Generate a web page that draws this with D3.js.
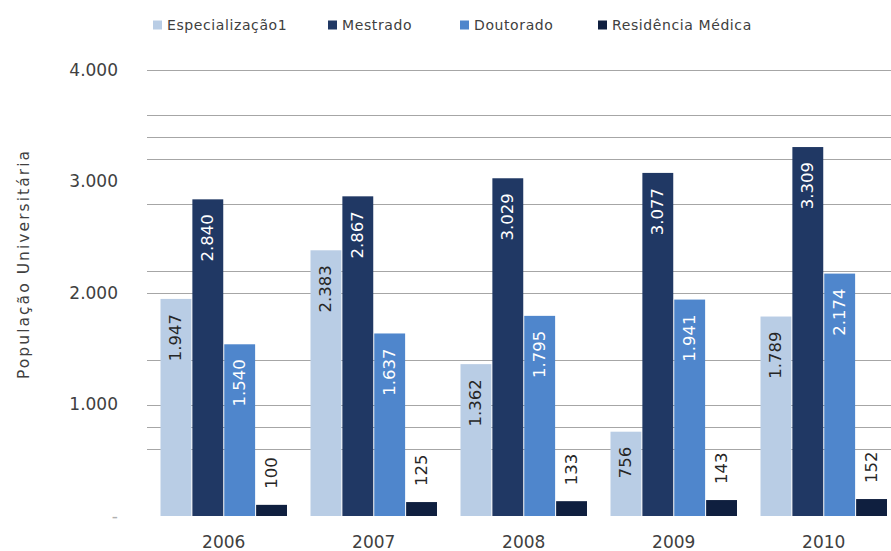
<!DOCTYPE html>
<html>
<head>
<meta charset="utf-8">
<script src="https://d3js.org/d3.v7.min.js"></script>
<style>
  body { margin: 0; background: #fff; }
  text { font-family: "DejaVu Sans", sans-serif; }
</style>
</head>
<body>
<div class="chart"></div>
<script>
// chart values
const years = ["2006", "2007", "2008", "2009", "2010"];
const series = ["Especialização1", "Mestrado", "Doutorado", "Residência Médica"];
const especializacao = [1947, 2383, 1362, 756, 1789];
const mestrado = [2840, 2867, 3029, 3077, 3309];
const doutorado = [1540, 1637, 1795, 1941, 2174];
const residencia = [100, 125, 133, 143, 152];
const yTicks = [0, 1000, 2000, 3000, 4000];
// the scanned picture has extra, uneven grid lines
const gridValues = [4000, 3600, 3400, 3200, 2800, 2200, 2000, 1400, 1000, 800, 600];

const colors = ["#b9cde5", "#203864", "#4f86cc", "#0f1f3f"];
const values = [especializacao, mestrado, doutorado, residencia];

// legend swatch positions as in the scan
const legendX = [153, 328, 460, 598];

const width = 891, height = 551;
const svg = d3.select(".chart").append("svg")
    .attr("width", width)
    .attr("height", height);

const y = d3.scaleLinear().domain([0, 4000]).range([516, 70]);

const x = d3.scaleBand()
    .domain(years)
    .range([148.75, 898.75])
    .paddingInner(0.15)
    .paddingOuter(0.075);

const xs = d3.scaleBand()
    .domain(series)
    .range([0, x.bandwidth()]);

const fmt = v => d3.format(",")(v).replace(/,/g, ".");

// grid
svg.selectAll(".grid")
    .data(gridValues)
    .enter()
    .append("line")
    .attr("class", "grid")
    .attr("x1", 147)
    .attr("x2", width)
    .attr("y1", d => Math.round(y(d)) + 0.5)
    .attr("y2", d => Math.round(y(d)) + 0.5)
    .attr("stroke", "#a6a6a6")
    .attr("stroke-width", 1.2);

// y axis labels
const yAxis = svg.append("g")
    .attr("transform", "translate(140,0)")
    .call(d3.axisLeft(y)
        .tickValues(yTicks)
        .tickSize(0)
        .tickPadding(22)
        .tickFormat(d => d === 0 ? "-" : fmt(d)));
yAxis.select(".domain").remove();
yAxis.selectAll("text")
    .attr("font-size", 17)
    .attr("fill", "#404040");
yAxis.selectAll(".tick").filter(d => d === 0).select("text").attr("fill", "#b0b0b0");

svg.append("text")
    .attr("transform", "translate(24,265) rotate(-90)")
    .attr("text-anchor", "middle")
    .attr("dominant-baseline", "central")
    .attr("font-size", 15.5)
    .attr("textLength", 228)
    .attr("lengthAdjust", "spacing")
    .attr("fill", "#404040")
    .text("População Universitária");

// bars
const groups = svg.selectAll(".year")
    .data(years)
    .enter()
    .append("g")
    .attr("class", "year")
    .attr("transform", d => "translate(" + x(d) + ",0)");

series.forEach(function (s, si) {
    groups.append("rect")
        .attr("x", xs(s) + 0.5)
        .attr("width", xs.bandwidth() - 1)
        .attr("y", (d, i) => y(values[si][i]))
        .attr("height", (d, i) => y(0) - y(values[si][i]))
        .attr("fill", colors[si]);

    groups.append("text")
        .attr("transform", function (d, i) {
            const cx = xs(s) + xs.bandwidth() / 2;
            const top = y(values[si][i]);
            const ty = si === 3 ? top - 16 : top + 15;
            return "translate(" + cx + "," + ty + ") rotate(-90)";
        })
        .attr("text-anchor", si === 3 ? "start" : "end")
        .attr("dominant-baseline", "central")
        .attr("font-size", 16.5)
        .attr("fill", si === 1 || si === 2 ? "#ffffff" : "#262626")
        .text((d, i) => fmt(values[si][i]));
});

// x labels
svg.selectAll(".xlab")
    .data(years)
    .enter()
    .append("text")
    .attr("class", "xlab")
    .attr("x", d => x(d) + x.bandwidth() / 2)
    .attr("y", 542)
    .attr("text-anchor", "middle")
    .attr("dominant-baseline", "central")
    .attr("font-size", 17)
    .attr("fill", "#404040")
    .text(d => d);

// legend
const legend = svg.append("g").attr("transform", "translate(0,25)");
series.forEach(function (s, si) {
    const item = legend.append("g").attr("transform", "translate(" + legendX[si] + ",0)");
    item.append("rect")
        .attr("x", 0).attr("y", -4.5)
        .attr("width", 9).attr("height", 9)
        .attr("fill", colors[si]);
    item.append("text")
        .attr("x", 14)
        .attr("dominant-baseline", "central")
        .attr("font-size", 14)
        .attr("letter-spacing", 0.6)
        .attr("fill", "#404040")
        .text(s);
});
</script>
</body>
</html>
